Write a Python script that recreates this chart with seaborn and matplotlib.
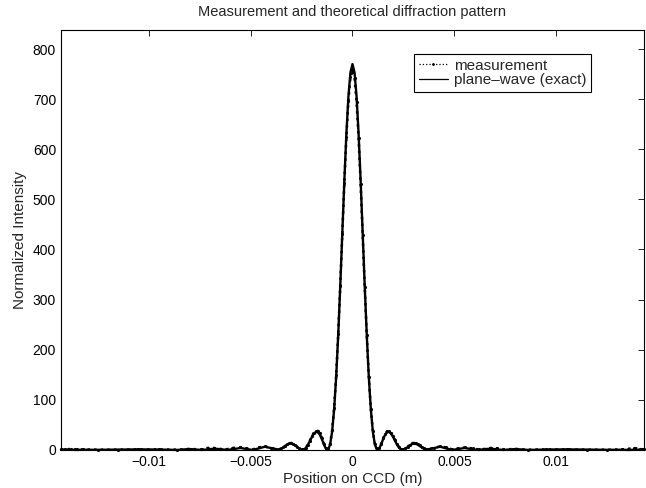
import pandas as pd
import seaborn as sns
import matplotlib.pyplot as plt

# ── Data ─────────────────────────────────────────────────────────────────────
POSITION = [
    -0.0143, -0.0141, -0.0138, -0.0135, -0.0132, -0.0125, -0.0115, -0.0105,
    -0.0095, -0.0086, -0.0080, -0.0074, -0.0071, -0.0068, -0.0065, -0.0062,
    -0.0059, -0.0055, -0.0052, -0.0049, -0.0046, -0.0043, -0.0040,
    -0.0036, -0.0035, -0.0034, -0.0033, -0.0032, -0.0031, -0.0030, -0.0029,
    -0.0028, -0.0027, -0.0026, -0.0025, -0.0024, -0.0023, -0.0022, -0.0021,
    -0.0020, -0.0019, -0.0018, -0.0017, -0.0016, -0.0015, -0.0014, -0.0013,
    -0.0012, -0.0011, -0.0010, -0.0009, -0.0008, -0.0007, -0.0006, -0.0005,
    -0.0004, -0.0003, -0.0002, -0.0001, 0.0,
    0.0001, 0.0002, 0.0003, 0.0004, 0.0005, 0.0006, 0.0007, 0.0008,
    0.0009, 0.0010, 0.0011, 0.0012, 0.0013, 0.0014, 0.0015, 0.0016,
    0.0017, 0.0018, 0.0019, 0.0020, 0.0021, 0.0022, 0.0023, 0.0024,
    0.0025, 0.0026, 0.0027, 0.0028, 0.0029, 0.0030, 0.0031, 0.0032,
    0.0033, 0.0034, 0.0035, 0.0036,
    0.0040, 0.0043, 0.0046, 0.0049, 0.0052, 0.0055, 0.0059, 0.0062,
    0.0065, 0.0068, 0.0071, 0.0074, 0.0080, 0.0086, 0.0095, 0.0105,
    0.0115, 0.0125, 0.0132, 0.0135, 0.0138, 0.0141, 0.0143,
]

MEASUREMENT = [
    1, 1, 2, 1, 1, 0.5, 0.5, 1,
    1, 0.5, 2, 1, 4, 4, 2, 1,
    4, 5, 3, 1, 5, 7, 4,
    1, 3, 5, 8, 11, 13, 14, 12,
    10, 6, 3, 1, 1, 4, 10, 18,
    27, 34, 38, 38, 33, 24, 12, 3,
    2, 12, 39, 84, 149, 232, 328, 431,
    533, 624, 697, 744, 758,
    742, 695, 622, 530, 428, 325, 229, 146,
    82, 37, 12, 2, 4, 12, 23, 32,
    37, 38, 34, 27, 19, 11, 5, 1,
    1, 3, 6, 10, 13, 14, 13, 12,
    9, 6, 3, 1,
    4, 7, 5, 1, 3, 5, 3, 1,
    2, 4, 3, 1, 2, 0.5, 1, 1,
    0.5, 0.5, 1, 2, 4, 2, 1,
]

PLANE_WAVE = [
    0.5, 0.6, 0.25, 0.0, 0.4, 0.2, 0.7, 1.1,
    0.8, 0.0, 1.8, 0.0, 1.0, 2.5, 1.7, 0.05,
    1.2, 3.9, 1.9, 0.0, 3.0, 6.4, 3.7,
    0.5, 2.3, 4.9, 7.8, 10.5, 12.2, 12.6, 11.4,
    8.8, 5.4, 2.1, 0.2, 0.5, 3.5, 9.4, 17.1,
    25.2, 32.1, 35.9, 35.4, 30.3, 21.3, 10.5, 2.2,
    0.5, 10.4, 36.2, 81.1, 146.0, 229.7, 327.3, 432.4,
    537.0, 630.6, 705.4, 753.3, 770.0,
    753.3, 705.4, 630.6, 537.0, 432.4, 327.3, 229.7, 146.0,
    81.1, 36.2, 10.4, 0.5, 2.2, 10.5, 21.3, 30.3,
    35.4, 35.9, 32.1, 25.2, 17.1, 9.4, 3.5, 0.5,
    0.2, 2.1, 5.4, 8.8, 11.4, 12.6, 12.2, 10.5,
    7.8, 4.9, 2.3, 0.5,
    3.7, 6.4, 3.0, 0.0, 1.9, 3.9, 1.2, 0.05,
    1.7, 2.5, 1.0, 0.0, 1.8, 0.0, 0.8, 1.1,
    0.7, 0.2, 0.4, 0.0, 0.25, 0.6, 0.5,
]

X_TICKS = [-0.01, -0.005, 0, 0.005, 0.01]
X_TICK_LABELS = ["\u22120.01", "\u22120.005", "0", "0.005", "0.01"]
Y_TICKS = [0, 100, 200, 300, 400, 500, 600, 700, 800]

df = pd.DataFrame({
    "position": POSITION,
    "measurement": MEASUREMENT,
    "plane_wave": PLANE_WAVE,
})

# ── Style ────────────────────────────────────────────────────────────────────
sns.set_style("white")
plt.rcParams["font.family"] = ["Liberation Sans", "DejaVu Sans"]
plt.rcParams["xtick.direction"] = "in"
plt.rcParams["ytick.direction"] = "in"

fig = plt.figure(figsize=(6.46, 4.88), dpi=100)
ax = fig.add_axes([0.0944, 0.078, 0.9025, 0.8605])

sns.lineplot(
    data=df, x="position", y="measurement", ax=ax,
    color="black", linestyle=":", linewidth=1.8,
    marker=".", markersize=4.5, markeredgewidth=0,
    label="measurement", clip_on=False,
)
sns.lineplot(
    data=df, x="position", y="plane_wave", ax=ax,
    color="black", linestyle="-", linewidth=1.7,
    label="plane\u2013wave (exact)", clip_on=False,
)

ax.set_xlim(-0.0143, 0.0143)
ax.set_ylim(0, 838)
ax.set_xticks(X_TICKS)
ax.set_xticklabels(X_TICK_LABELS)
ax.set_yticks(Y_TICKS)
ax.tick_params(axis="both", which="both", direction="in", length=4,
               width=0.6, labelsize=10, top=True, right=True, colors="black")
for side in ax.spines.values():
    side.set_visible(True)
    side.set_color("black")
    side.set_linewidth(0.8)

ax.set_title("Measurement and theoretical diffraction pattern", fontsize=10.5, pad=10)
ax.set_xlabel("Position on CCD (m)", fontsize=11, labelpad=2)
ax.set_ylabel("Normalized Intensity", fontsize=11, labelpad=4)

leg = ax.legend(
    loc="upper right", bbox_to_anchor=(0.909, 0.943), borderaxespad=0,
    fontsize=11, frameon=True, fancybox=False, edgecolor="black",
    framealpha=1, borderpad=0.3, handlelength=1.9, handletextpad=0.4,
    labelspacing=0.05, numpoints=1,
)
leg.get_frame().set_linewidth(0.8)
# legend keys are drawn thin, as in the reference
for handle in leg.get_lines():
    handle.set_linewidth(0.9)
    handle.set_markersize(4)

fig.savefig("out.png", dpi=100)
plt.close(fig)
